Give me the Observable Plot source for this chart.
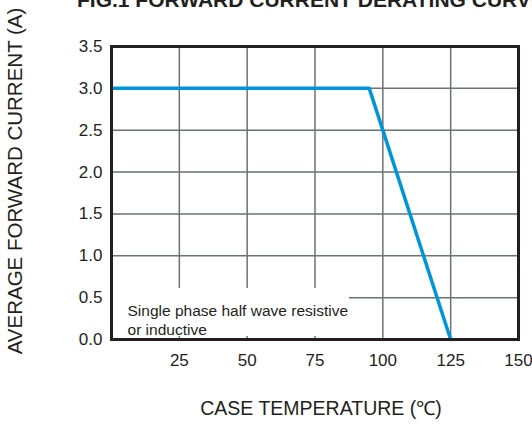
<!DOCTYPE html>
<html>
<head>
<meta charset="utf-8">
<script src="https://cdn.jsdelivr.net/npm/d3@7"></script>
<script src="https://cdn.jsdelivr.net/npm/@observablehq/plot@0.6"></script>
<style>
  html, body { margin: 0; padding: 0; background: #fff; overflow: hidden; }
  #wrap { position: relative; width: 532px; height: 424px; font-family: "Liberation Sans", Arial, sans-serif; color: #231f20; }
  #wrap svg { position: absolute; left: 0; top: 0; }
  .t { position: absolute; white-space: nowrap; line-height: 1; }
  #title { left: 77px; top: -11px; font-size: 21px; font-weight: bold; }
  #ytitle { left: 15px; top: 181px; font-size: 20.5px; transform: translate(-50%, -50%) rotate(-90deg); }
  #xtitle { left: 321px; top: 399px; font-size: 19.5px; transform: translateX(-50%); }
</style>
</head>
<body>
<div id="wrap">
  <div class="t" id="title">FIG.1 FORWARD CURRENT DERATING CURVE</div>
  <div class="t" id="ytitle">AVERAGE FORWARD CURRENT (A)</div>
  <div class="t" id="xtitle">CASE TEMPERATURE (℃)</div>
</div>
<script>
// Data
const caseTemps = [0, 95, 125];          // °C
const forwardCurrent = [3.0, 3.0, 0.0];  // A
const xTickValues = [25, 50, 75, 100, 125, 150];
const yTickValues = [0, 0.5, 1.0, 1.5, 2.0, 2.5, 3.0, 3.5];
const xGridValues = [25, 50, 75, 100, 125];
const yGridValues = [0.5, 1.0, 1.5, 2.0, 2.5, 3.0];
const noteText = ["Single phase half wave resistive\nor inductive"];
const noteBox = [{x1: 0, x2: 87.7, y1: 0.036, y2: 0.61}];
const notePos = [{x: 5.9, y: 0.43}];

const curve = caseTemps.map((t, i) => ({t, a: forwardCurrent[i]}));
const notes = noteText.map((text, i) => ({text, ...notePos[i]}));

const grid = {stroke: "#6b7371", strokeOpacity: 1, strokeWidth: 1.5};

const chart = Plot.plot({
  width: 532,
  height: 424,
  marginLeft: 111,
  marginRight: 14,
  marginTop: 46,
  marginBottom: 85,
  style: {fontFamily: "'Liberation Sans', Arial, sans-serif", color: "#231f20", background: "transparent"},
  x: {domain: [0, 150]},
  y: {domain: [0, 3.5]},
  marks: [
    Plot.gridX(xGridValues, grid),
    Plot.gridY(yGridValues, grid),
    Plot.rect(noteBox, {x1: "x1", x2: "x2", y1: "y1", y2: "y2", fill: "white"}),
    Plot.text(notes, {x: "x", y: "y", text: "text", textAnchor: "start", lineAnchor: "top", lineHeight: 1.17, fontSize: 15.5, fill: "#231f20"}),
    Plot.line(curve, {x: "t", y: "a", stroke: "#0095da", strokeWidth: 3.5}),
    Plot.frame({stroke: "#231f20", strokeWidth: 3}),
    Plot.axisX(xTickValues, {tickSize: 0, tickPadding: 14, fontSize: 17, label: null}),
    Plot.axisY(yTickValues, {tickSize: 0, tickPadding: 9, fontSize: 17, tickFormat: d3.format(".1f"), label: null})
  ]
});
document.getElementById("wrap").appendChild(chart);
</script>
</body>
</html>
